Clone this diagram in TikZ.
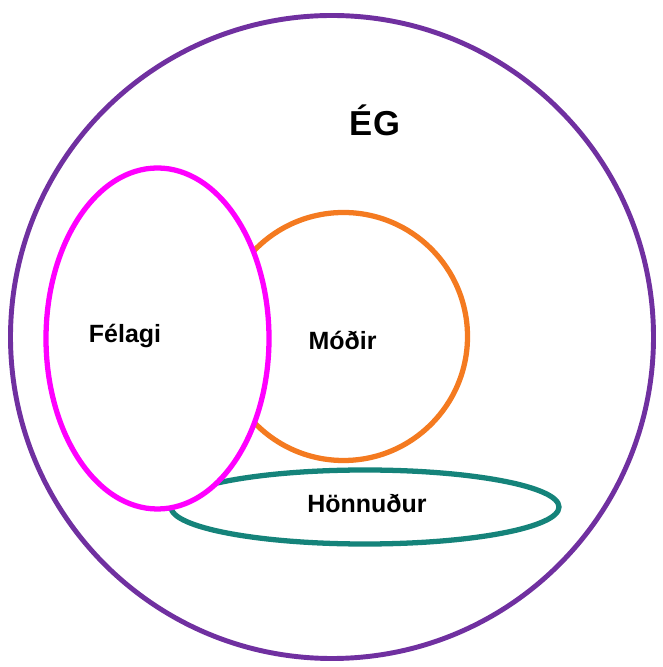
\documentclass[tikz,border=0pt]{standalone}
\usepackage{fontspec}
\setmainfont{Liberation Sans}
\definecolor{egpurple}{HTML}{7030A0}
\definecolor{felagipink}{HTML}{FF00FF}
\definecolor{modirorange}{HTML}{F47A20}
\definecolor{honnudurteal}{HTML}{15837A}
\usetikzlibrary{positioning}

\begin{document}
\begin{tikzpicture}
\useasboundingbox (0,0) rectangle (13.26,13.34);
\coordinate (E) at (6.64,6.60);
\coordinate (F) at (3.15,6.57);
\coordinate (M) at (6.87,6.61);
\coordinate (H) at (7.30,3.20);
\draw[line width=2.8pt,egpurple] (E) circle (6.43);
\draw[line width=3.0pt,modirorange] (M) circle (2.48);
\draw[line width=3.0pt,honnudurteal,fill=white] (H) ellipse [x radius=3.88,y radius=0.74];
\draw[line width=3.0pt,felagipink,fill=white] (F) ellipse [x radius=2.23,y radius=3.41];
\node[font=\bfseries\fontsize{19.7}{22}\selectfont] (eg) at (7.50,10.94) {ÉG};
\node[font=\bfseries\fontsize{14.2}{16}\selectfont] (felagi) at (2.50,6.62) {Félagi};
\node[font=\bfseries\fontsize{14.2}{16}\selectfont] (modir) at (6.85,6.54) {Móðir};
\node[font=\bfseries\fontsize{14.2}{16}\selectfont] (honnudur) at (7.34,3.28) {Hönnuður};
\end{tikzpicture}
\end{document}
